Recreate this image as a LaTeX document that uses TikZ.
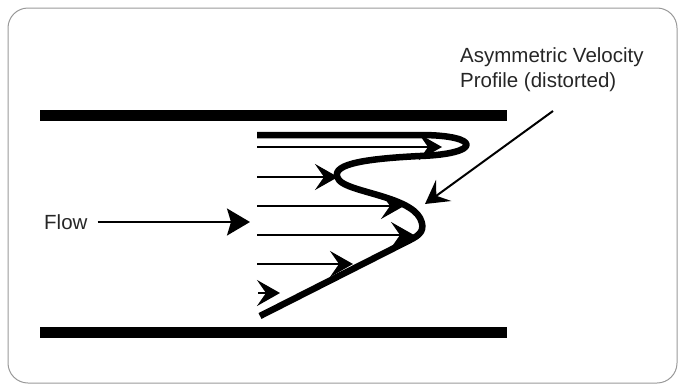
\documentclass[tikz,border=0pt]{standalone}
\usepackage{fontspec}
\setmainfont{Liberation Sans}
\usetikzlibrary{
    positioning,
    arrows.meta
}
\tikzset{
    pared/.style={line width=11pt},
    perfil/.style={line width=6.5pt, line join=round},
    flecha/.style={-{Stealth[length=23pt 0 0,width=26pt 0 0,inset=9pt 0]}, line width=2pt},
    flechaflow/.style={-{Stealth[length=23pt 0 0,width=27pt 0 0,inset=4pt 0]}, line width=2pt},
    rotulo/.style={font=\fontsize{20.5}{25}\selectfont, text=black!85, inner sep=0pt}
}

\begin{document}
\begin{tikzpicture}[
    x=1pt, y=-1pt
]
    \useasboundingbox (0,0) rectangle (685,391);

    % Marco
    \draw[black!40, line width=1pt, rounded corners=20pt] (8,8) rectangle (677,383);

    % Paredes
    \draw[pared] (40,115.5) -- (507,115.5);
    \draw[pared] (40,332.5) -- (507,332.5);

    % Flechas de velocidad
    \foreach \y/\xe [count=\i] in {147/442, 177/338, 206/404, 235/414, 264/353, 293/280}{
        \coordinate (a\i) at (257,\y);
        \coordinate (b\i) at (\xe,\y);
    }
    \foreach \i in {1,...,5}{
        \draw[flecha] (a\i) -- (b\i);
    }
    \draw[flecha] ([xshift=1pt]a6) -- (b6);

    % Perfil
    \draw[perfil] (257,135) -- (420,135)
        .. controls (482,135) and (482,154) .. (420,156)
        .. controls (360,159) and (328,165) .. (339,180)
        .. controls (348,192) and (408,196) .. (420,218)
        .. controls (426,230) and (420,235) .. (410,240)
        -- (260,316);

    % Rotulos
    \node[rotulo, anchor=west] (flow) at (44,222) {Flow};
    \coordinate (flowtip) at (250,222);
    \draw[flechaflow] ([xshift=10pt]flow.east) -- (flowtip);

    \node[rotulo, align=left, anchor=north west] (asym) at (460,47)
        {Asymmetric Velocity\\Profile (distorted)};
    \coordinate (asymstart) at (553,111);
    \coordinate (asymtip) at (425,204);
    \draw[flecha] (asymstart) -- (asymtip);

\end{tikzpicture}
\end{document}
